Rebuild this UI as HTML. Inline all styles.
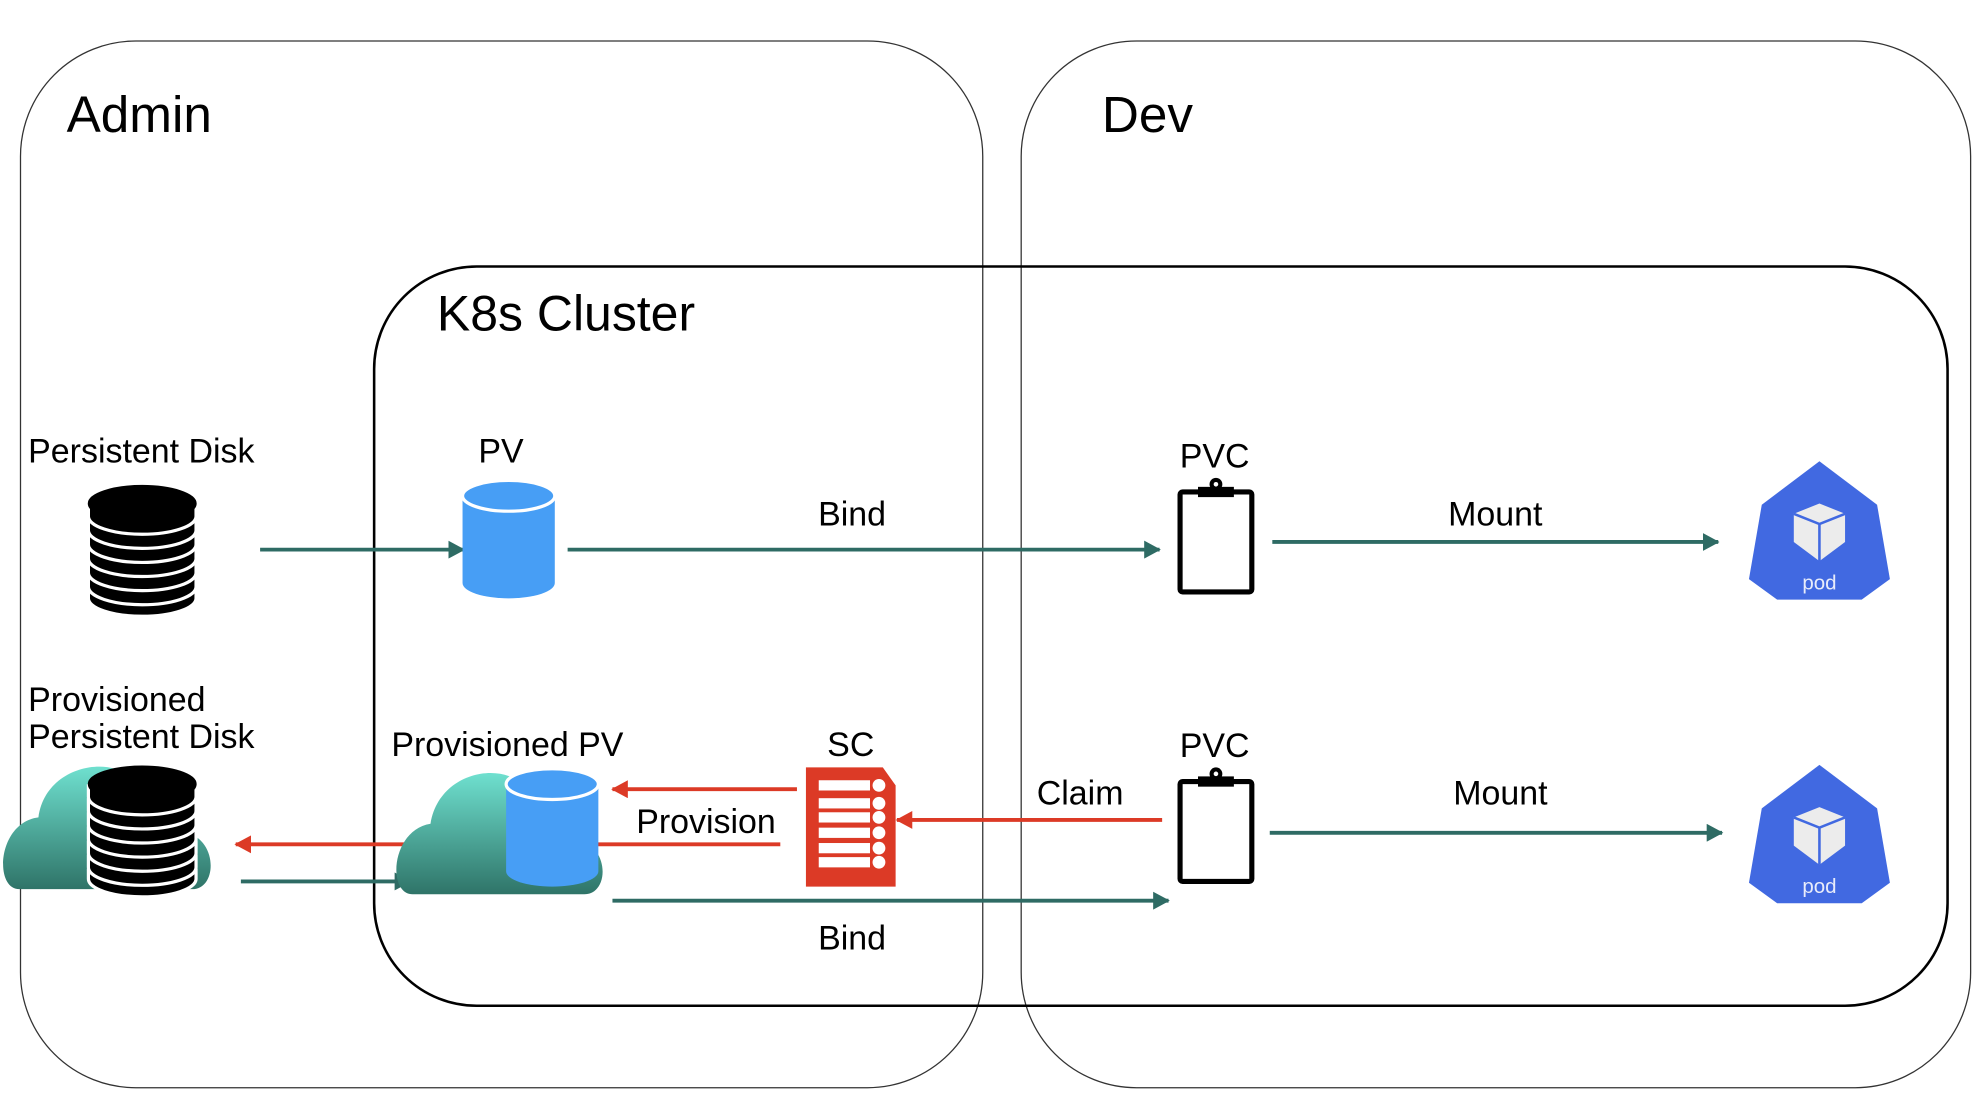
<!DOCTYPE html>
<html><head><meta charset="utf-8"><style>
html,body{margin:0;padding:0;background:#fff;}
svg{display:block}
text{font-family:"Liberation Sans",sans-serif;fill:#000}
</style></head><body>
<svg width="1986" height="1114" viewBox="0 0 1550 869.5" preserveAspectRatio="none" xmlns="http://www.w3.org/2000/svg">
<defs>
<linearGradient id="cg" x1="0" y1="0" x2="0" y2="1"><stop offset="0" stop-color="#6fe0cf"/><stop offset="1" stop-color="#2f7468"/></linearGradient>
<marker id="at" markerWidth="13" markerHeight="14" refX="12" refY="7" orient="auto" markerUnits="userSpaceOnUse"><path d="M0,0 L13,7 L0,14 Z" fill="#2e6b64"/></marker>
<marker id="ar" markerWidth="13" markerHeight="14" refX="12" refY="7" orient="auto" markerUnits="userSpaceOnUse"><path d="M0,0 L13,7 L0,14 Z" fill="#dc3a26"/></marker>
<g id="db">
<g fill="#000" stroke="#fff" stroke-width="2.5">
<path d="M-42,66 v8 a42,14 0 0 0 84,0 v-8"/>
<path d="M-42,55 v10 a42,14 0 0 0 84,0 v-10"/>
<path d="M-42,44 v10 a42,14 0 0 0 84,0 v-10"/>
<path d="M-42,33 v10 a42,14 0 0 0 84,0 v-10"/>
<path d="M-42,22 v10 a42,14 0 0 0 84,0 v-10"/>
<path d="M-42,11 v10 a42,14 0 0 0 84,0 v-10"/>
<path d="M-42,0 v10 a42,14 0 0 0 84,0 v-10"/>
</g>
<ellipse cx="0" cy="0" rx="42" ry="14" fill="#000" stroke="#000"/>
</g>
<g id="clip">
<rect x="0" y="0" width="56" height="78" fill="#fff" stroke="#000" stroke-width="4" rx="2"/>
<rect x="14" y="-4" width="28" height="8" fill="#000"/>
<circle cx="28" cy="-6" r="5" fill="#000"/><circle cx="28" cy="-6" r="1.8" fill="#fff"/>
</g>
<g id="pod">
<polygon points="55,0 100,34 110,92 88,108 22,108 0,92 10,34" fill="#4169e1"/>
<polygon points="55,33 75,41 75,63 55,78 35,63 35,41" fill="#ececec"/>
<path d="M35,41 L55,49 L75,41 M55,49 V78" stroke="#4169e1" stroke-width="2" fill="none"/>
<text x="55" y="100" font-size="16" text-anchor="middle" style="fill:#e8ecfa">pod</text>
</g>
<g id="cyl">
<path d="M0,12 v68 a36,12 0 0 0 72,0 v-68 z" fill="#479ef5"/>
<ellipse cx="36" cy="12" rx="36" ry="12" fill="#479ef5" stroke="#fff" stroke-width="2.5"/>
</g>
</defs>

<rect x="16" y="32" width="751" height="817" rx="90" ry="90" fill="none" stroke="#333" stroke-width="1"/>
<rect x="797" y="32" width="741" height="817" rx="90" ry="90" fill="none" stroke="#333" stroke-width="1"/>
<rect x="292" y="208" width="1228" height="577" rx="80" ry="80" fill="none" stroke="#000" stroke-width="2"/>

<text x="52" y="103" font-size="40">Admin</text>
<text x="860" y="103" font-size="40">Dev</text>
<text x="341" y="258" font-size="39">K8s Cluster</text>

<text x="22" y="361" font-size="26.5">Persistent Disk</text>
<use href="#db" x="111" y="393"/>
<line x1="203" y1="429" x2="362" y2="429" stroke="#2e6b64" stroke-width="3" marker-end="url(#at)"/>
<text x="391" y="361" font-size="26.5" text-anchor="middle">PV</text>
<use href="#cyl" x="361" y="375"/>
<line x1="443" y1="429" x2="905" y2="429" stroke="#2e6b64" stroke-width="3" marker-end="url(#at)"/>
<text x="665" y="410" font-size="26.5" text-anchor="middle">Bind</text>
<text x="948" y="365" font-size="26.5" text-anchor="middle">PVC</text>
<use href="#clip" x="921" y="384"/>
<line x1="993" y1="423" x2="1341" y2="423" stroke="#2e6b64" stroke-width="3" marker-end="url(#at)"/>
<text x="1167" y="410" font-size="26.5" text-anchor="middle">Mount</text>
<use href="#pod" x="1365" y="360"/>

<text x="22" y="555" font-size="26.5">Provisioned</text>
<text x="22" y="584" font-size="26.5">Persistent Disk</text>
<path d="M15,694 C-5,694 -2,642 30,638 C35,600 80,590 100,605 C120,590 150,620 145,650 C170,655 170,694 150,694 Z" fill="url(#cg)"/>
<use href="#db" x="111" y="612"/>
<line x1="609" y1="659" x2="184" y2="659" stroke="#dc3a26" stroke-width="3" marker-end="url(#ar)"/>
<line x1="188" y1="688" x2="320" y2="688" stroke="#2e6b64" stroke-width="3" marker-end="url(#at)"/>

<text x="396" y="590" font-size="26.5" text-anchor="middle">Provisioned PV</text>
<path d="M322,698 C302,698 305,648 336,643 C342,605 385,595 405,610 C425,595 455,625 450,655 C476,660 476,698 456,698 Z" fill="url(#cg)"/>
<use href="#cyl" x="395" y="600"/>
<line x1="622" y1="616" x2="478" y2="616" stroke="#dc3a26" stroke-width="3" marker-end="url(#ar)"/>
<text x="551" y="650" font-size="26.5" text-anchor="middle">Provision</text>

<text x="664" y="590" font-size="26.5" text-anchor="middle">SC</text>
<g transform="translate(629,599)">
<path d="M0,0 H60 L70,14 V93 H0 Z" fill="#dc3a26"/>
<g fill="#fff">
<rect x="10" y="10" width="40" height="8"/><circle cx="57" cy="14" r="5"/>
<rect x="10" y="24" width="40" height="8"/><circle cx="57" cy="28" r="5"/>
<rect x="10" y="35" width="40" height="8"/><circle cx="57" cy="39" r="5"/>
<rect x="10" y="47" width="40" height="8"/><circle cx="57" cy="51" r="5"/>
<rect x="10" y="59" width="40" height="8"/><circle cx="57" cy="63" r="5"/>
<rect x="10" y="70" width="40" height="8"/><circle cx="57" cy="74" r="5"/>
</g>
</g>
<line x1="907" y1="640" x2="700" y2="640" stroke="#dc3a26" stroke-width="3" marker-end="url(#ar)"/>
<text x="843" y="628" font-size="26.5" text-anchor="middle">Claim</text>

<line x1="478" y1="703" x2="912" y2="703" stroke="#2e6b64" stroke-width="3" marker-end="url(#at)"/>
<text x="665" y="741" font-size="26.5" text-anchor="middle">Bind</text>

<text x="948" y="591" font-size="26.5" text-anchor="middle">PVC</text>
<use href="#clip" x="921" y="610"/>
<line x1="991" y1="650" x2="1344" y2="650" stroke="#2e6b64" stroke-width="3" marker-end="url(#at)"/>
<text x="1171" y="628" font-size="26.5" text-anchor="middle">Mount</text>
<use href="#pod" x="1365" y="597"/>
</svg>
</body></html>
